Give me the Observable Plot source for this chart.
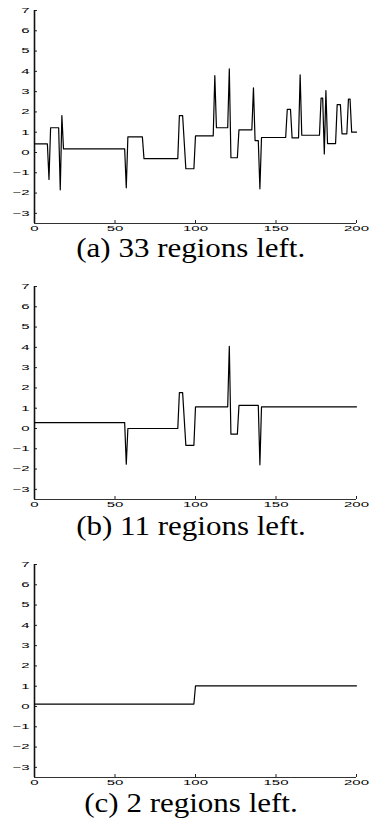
<!DOCTYPE html>
<html><head><meta charset="utf-8">
<script src="https://cdn.jsdelivr.net/npm/d3@7"></script>
<script src="https://cdn.jsdelivr.net/npm/@observablehq/plot@0.6"></script>
<style>
html,body{margin:0;padding:0;background:#fff;}
#wrap{position:relative;width:369px;height:833px;overflow:hidden;background:#fff;}
.panel{position:absolute;left:0;}
.cap{position:absolute;left:0;width:381px;text-align:center;font-family:"Liberation Serif","Times New Roman",serif;font-size:27px;line-height:27px;white-space:nowrap;color:#000;}
.cap span{display:inline-block;transform-origin:50% 50%;}
</style></head><body><div id="wrap"></div>
<script>
// tick labels
const xTicks = [0, 50, 100, 150, 200];
const yTicks = [-3, -2, -1, 0, 1, 2, 3, 4, 5, 6, 7];
const captions = ["(a) 33 regions left.", "(b) 11 regions left.", "(c) 2 regions left."];

// panel (a): piecewise-constant regions (start index, end index, level)
const aStart = [0, 9, 10, 16, 17, 18, 57, 58, 68, 90, 94, 100, 112, 113, 121, 122, 127, 136, 137, 140, 141, 157, 160, 165, 166, 178, 180, 181, 182, 188, 191, 195, 197];
const aEnd   = [8, 9, 15, 16, 17, 56, 57, 67, 89, 92, 99, 111, 112, 120, 121, 126, 135, 136, 139, 140, 156, 159, 164, 165, 177, 179, 180, 181, 187, 190, 194, 196, 200];
const aValue = [0.43, -1.33, 1.22, -1.84, 1.82, 0.18, -1.74, 0.77, -0.30, 1.82, -0.80, 0.82, 3.79, 1.22, 4.12, -0.26, 1.12, 3.19, 0.59, -1.79, 0.74, 2.13, 0.72, 3.83, 0.85, 2.68, -0.07, 3.05, 0.44, 2.36, 0.92, 2.63, 1.00];

// panel (b)
const bStart = [0, 57, 58, 90, 94, 100, 121, 122, 127, 140, 141];
const bEnd   = [56, 57, 89, 92, 99, 120, 121, 126, 139, 140, 200];
const bValue = [0.29, -1.76, 0.00, 1.77, -0.83, 1.07, 4.05, -0.28, 1.14, -1.79, 1.07];

// panel (c)
const cStart = [0, 100];
const cEnd   = [99, 200];
const cValue = [0.12, 1.02];

function toPoints(starts, ends, vals) {
  return starts.flatMap((s, i) => s === ends[i]
    ? [{x: s, y: vals[i]}]
    : [{x: s, y: vals[i]}, {x: ends[i], y: vals[i]}]);
}

const wrap = document.getElementById("wrap");
const fmt = d3.format("d");

function panel(points, top) {
  const svg = Plot.plot({
    width: 369, height: 243,
    marginTop: 10, marginBottom: 20, marginLeft: 34, marginRight: 13,
    style: {background: "white", color: "black", fontFamily: "'Liberation Sans', Arial, sans-serif", fontSize: "7.5px"},
    x: {domain: [0, 200]},
    y: {domain: [-3.5, 7]},
    marks: [
      Plot.axisY({ticks: yTicks, tickSize: 0, tickPadding: 5, tickFormat: fmt, label: null, fill: "black"}),
      Plot.axisX({ticks: xTicks, tickSize: 0, tickPadding: 2, tickFormat: fmt, label: null, fill: "black"}),
      Plot.tickY(yTicks, {y: d => d, insetRight: 319, stroke: "#222", strokeWidth: 1}),
      Plot.tickX(xTicks, {x: d => d, insetTop: 210, stroke: "#222", strokeWidth: 1}),
      Plot.ruleX([0], {y1: -3.5, y2: 7, stroke: "#111", strokeWidth: 1.6}),
      Plot.ruleY([-3.5], {x1: 0, x2: 200, stroke: "#333", strokeWidth: 1}),
      Plot.line(points, {x: "x", y: "y", stroke: "black", strokeWidth: 1.2})
    ]
  });
  svg.querySelectorAll("text").forEach(el => {
    const t = el.getAttribute("transform");
    if (t) el.setAttribute("transform", t + " scale(2,1)");
    else {
      const x = +el.getAttribute("x") || 0, y = +el.getAttribute("y") || 0;
      el.setAttribute("transform", `translate(${x},${y}) scale(2,1) translate(${-x},${-y})`);
    }
  });
  const div = document.createElement("div");
  div.className = "panel";
  div.style.top = top + "px";
  div.appendChild(svg);
  wrap.appendChild(div);
}

panel(toPoints(aStart, aEnd, aValue), 0);
panel(toPoints(bStart, bEnd, bValue), 276);
panel(toPoints(cStart, cEnd, cValue), 554);

const capTops = [235, 513, 790];
const spans = captions.map((c, i) => {
  const d = document.createElement("div");
  d.className = "cap";
  d.style.top = capTops[i] + "px";
  const s = document.createElement("span");
  s.textContent = c;
  d.appendChild(s);
  wrap.appendChild(d);
  return s;
});
const sx = 229 / spans[0].getBoundingClientRect().width;
spans.forEach(s => s.style.transform = `scaleX(${sx})`);
</script>
</body></html>
